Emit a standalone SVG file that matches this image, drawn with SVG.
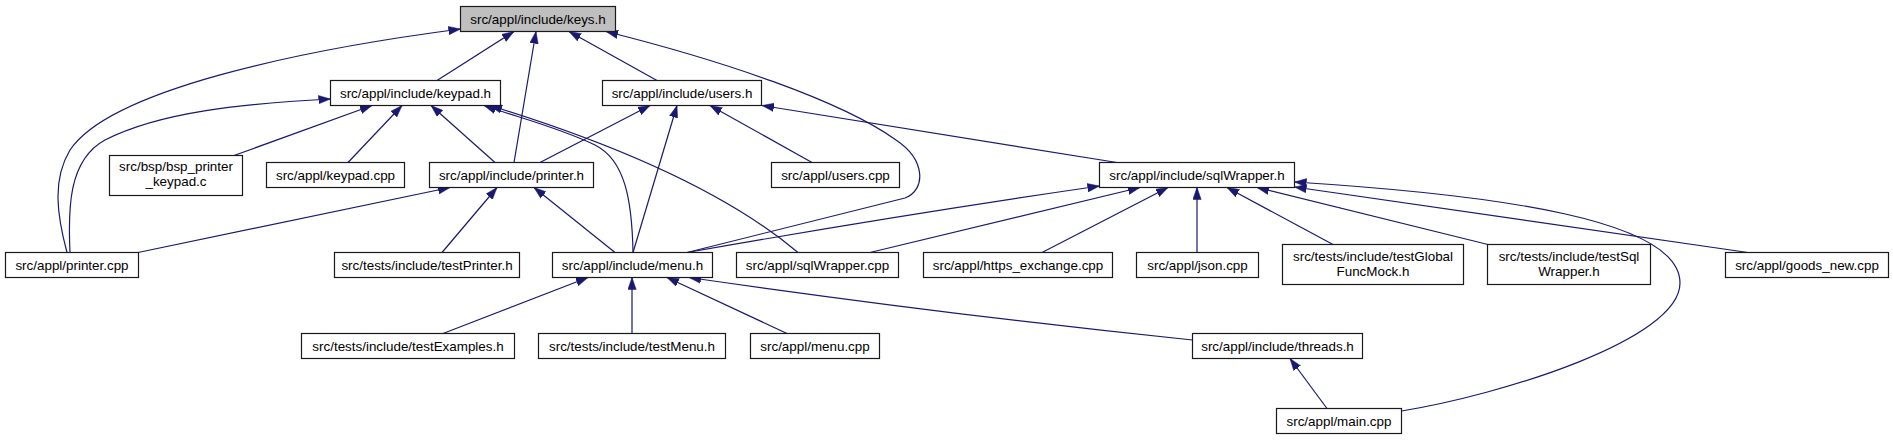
<svg xmlns="http://www.w3.org/2000/svg" width="1893" height="440" viewBox="0 0 1893 440">
<style>
.n rect{fill:#ffffff;stroke:#1a1a1a;stroke-width:1.2}
.n.root rect{fill:#bfbfbf}
.n text{font-family:"Liberation Sans",Arial,Helvetica,sans-serif;font-size:13.4px;fill:#000000;text-anchor:middle}
.e path{fill:none;stroke:#191970;stroke-width:1.2;marker-end:url(#ah)}
</style>
<defs>
<marker id="ah" markerUnits="userSpaceOnUse" markerWidth="12" markerHeight="9" viewBox="0 0 12 9" refX="12" refY="4.5" orient="auto">
<path d="M0,0.3 L12,4.5 L0,8.7 z" fill="#191970" stroke="#191970" stroke-width="0.5"/>
</marker>
</defs>
<rect x="0" y="0" width="1893" height="440" fill="#ffffff"/>
<g id="edges" class="e">
<path d="M437,80.5 L514,31.5"/>
<path d="M514,162.5 L536,31.5"/>
<path d="M657,80.5 L569,31.5"/>
<path d="M687,252.5 L905,198 C926,190 926,160 896,140 C840,100 720,60 606,31.5"/>
<path d="M67,252.5 C57,215 52,180 70,150 C110,90 300,50 460.5,29"/>
<path d="M70,252.5 C68,210 68,160 105,140 C160,112 240,104 330.5,99"/>
<path d="M234,155.5 L372,105.5"/>
<path d="M348,162.5 L402,105.5"/>
<path d="M495,162.5 L431,105.5"/>
<path d="M633,252.5 C632,200 625,160 595,145 C560,128 520,118 484,105.5"/>
<path d="M798,252.5 Q700,170 490,105.5"/>
<path d="M540,162.5 L650,105.5"/>
<path d="M633,252.5 L677,105.5"/>
<path d="M812,162.5 L710,105.5"/>
<path d="M1117,162.5 L762,105.5"/>
<path d="M138,252.5 L450,187.5"/>
<path d="M442,252.5 L497,187.5"/>
<path d="M615,252.5 L534,187.5"/>
<path d="M687,252.5 Q900,215 1099.5,186"/>
<path d="M870,252.5 L1140,187.5"/>
<path d="M1042,252.5 L1168,187.5"/>
<path d="M1197,252.5 L1197,187.5"/>
<path d="M1333,244.5 L1227,187.5"/>
<path d="M1488,244.5 L1257,187.5"/>
<path d="M1748,252.5 L1294.5,187"/>
<path d="M1401.5,411 C1500,395 1680,340 1680,283 C1680,220 1500,195 1294.5,182"/>
<path d="M443,333.5 L588,277.5"/>
<path d="M632,333.5 L632,277.5"/>
<path d="M787,333.5 L667,277.5"/>
<path d="M1192.5,340 Q950,315 689,277.5"/>
<path d="M1327,408.5 L1290,358.5"/>
</g>
<g id="keys_h" class="n root"><rect x="460.5" y="6.5" width="155" height="25"/><text x="538" y="23.5">src/appl/include/keys.h</text></g>
<g id="keypad_h" class="n"><rect x="330.5" y="80.5" width="170" height="25"/><text x="415.5" y="97.5">src/appl/include/keypad.h</text></g>
<g id="users_h" class="n"><rect x="602.5" y="80.5" width="159" height="25"/><text x="682" y="97.5">src/appl/include/users.h</text></g>
<g id="bsp_printer_keypad_c" class="n"><rect x="109.5" y="155.5" width="133" height="40"/><text x="176" y="171">src/bsp/bsp_printer</text><text x="176" y="186">_keypad.c</text></g>
<g id="keypad_cpp" class="n"><rect x="266.5" y="162.5" width="138" height="25"/><text x="335.5" y="179.5">src/appl/keypad.cpp</text></g>
<g id="printer_h" class="n"><rect x="429.5" y="162.5" width="164" height="25"/><text x="511.5" y="179.5">src/appl/include/printer.h</text></g>
<g id="users_cpp" class="n"><rect x="771.5" y="162.5" width="128" height="25"/><text x="835.5" y="179.5">src/appl/users.cpp</text></g>
<g id="sqlWrapper_h" class="n"><rect x="1099.5" y="162.5" width="195" height="25"/><text x="1197" y="179.5">src/appl/include/sqlWrapper.h</text></g>
<g id="printer_cpp" class="n"><rect x="5.5" y="252.5" width="133" height="25"/><text x="72" y="269.5">src/appl/printer.cpp</text></g>
<g id="testPrinter_h" class="n"><rect x="334.5" y="252.5" width="185" height="25"/><text x="427" y="269.5">src/tests/include/testPrinter.h</text></g>
<g id="menu_h" class="n"><rect x="552.5" y="252.5" width="160" height="25"/><text x="632.5" y="269.5">src/appl/include/menu.h</text></g>
<g id="sqlWrapper_cpp" class="n"><rect x="736.5" y="252.5" width="162" height="25"/><text x="817.5" y="269.5">src/appl/sqlWrapper.cpp</text></g>
<g id="https_exchange_cpp" class="n"><rect x="923.5" y="252.5" width="189" height="25"/><text x="1018" y="269.5">src/appl/https_exchange.cpp</text></g>
<g id="json_cpp" class="n"><rect x="1136.5" y="252.5" width="122" height="25"/><text x="1197.5" y="269.5">src/appl/json.cpp</text></g>
<g id="testGlobalFuncMock_h" class="n"><rect x="1282.5" y="244.5" width="181" height="40"/><text x="1373" y="261">src/tests/include/testGlobal</text><text x="1373" y="275.5">FuncMock.h</text></g>
<g id="testSqlWrapper_h" class="n"><rect x="1487.5" y="244.5" width="163" height="40"/><text x="1569" y="261">src/tests/include/testSql</text><text x="1569" y="275.5">Wrapper.h</text></g>
<g id="goods_new_cpp" class="n"><rect x="1725.5" y="252.5" width="163" height="25"/><text x="1807" y="269.5">src/appl/goods_new.cpp</text></g>
<g id="testExamples_h" class="n"><rect x="301.5" y="333.5" width="213" height="25"/><text x="408" y="350.5">src/tests/include/testExamples.h</text></g>
<g id="testMenu_h" class="n"><rect x="538.5" y="333.5" width="187" height="25"/><text x="632" y="350.5">src/tests/include/testMenu.h</text></g>
<g id="menu_cpp" class="n"><rect x="750.5" y="333.5" width="129" height="25"/><text x="815" y="350.5">src/appl/menu.cpp</text></g>
<g id="threads_h" class="n"><rect x="1192.5" y="333.5" width="170" height="25"/><text x="1277.5" y="350.5">src/appl/include/threads.h</text></g>
<g id="main_cpp" class="n"><rect x="1276.5" y="408.5" width="125" height="25"/><text x="1339" y="425.5">src/appl/main.cpp</text></g>
</svg>
